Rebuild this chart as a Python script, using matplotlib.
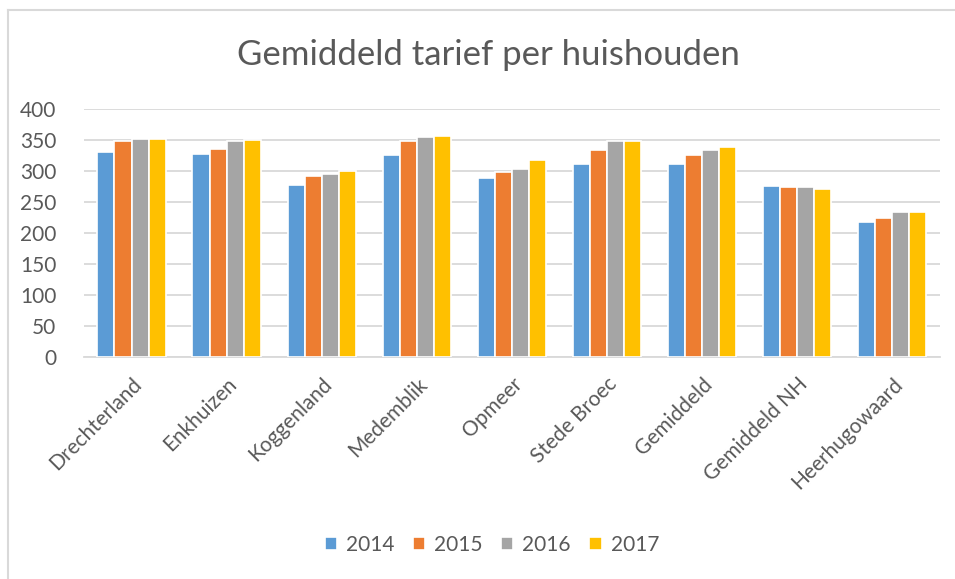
import matplotlib.pyplot as plt
import numpy as np
from matplotlib.lines import Line2D

plt.rcParams['font.family'] = ['Lato', 'DejaVu Sans']

gemeenten = ['Drechterland', 'Enkhuizen', 'Koggenland', 'Medemblik', 'Opmeer',
             'Stede Broec', 'Gemiddeld', 'Gemiddeld NH', 'Heerhugowaard']
jaren = ['2014', '2015', '2016', '2017']
t2014 = [330, 328, 278, 325, 288, 311, 311, 276, 218]
t2015 = [348, 336, 292, 348, 299, 334, 325, 274, 224]
t2016 = [352, 348, 295, 354, 303, 348, 334, 274, 234]
t2017 = [352, 350, 300, 356, 317, 348, 338, 271, 234]
kleuren = ['#5B9BD5', '#ED7D31', '#A5A5A5', '#FFC000']

tekst = '#595959'
fig = plt.figure(figsize=(9.55, 5.79), dpi=100)
ax = fig.add_axes([0.088, 0.383, 0.896, 0.429])

x = np.arange(len(gemeenten))
w = 0.18
for i, (reeks, kleur) in enumerate(zip([t2014, t2015, t2016, t2017], kleuren)):
    ax.bar(x + (i - 1.5) * w, reeks, width=w, color=kleur, edgecolor='white',
           linewidth=1.2, label=jaren[i], zorder=3)

ax.set_xlim(-0.5, len(gemeenten) - 0.5)
ax.set_ylim(0, 400)
ax.set_yticks(range(0, 401, 50))
ax.yaxis.grid(True, color='#D9D9D9', linewidth=1.3, zorder=0)
for s in ['top', 'right', 'left']:
    ax.spines[s].set_visible(False)
ax.spines['bottom'].set_color('#D9D9D9')
ax.spines['bottom'].set_linewidth(1.3)
ax.tick_params(axis='both', length=0, labelsize=15, labelcolor=tekst)
ax.tick_params(axis='y', pad=20)
ax.set_xticks(x)
ax.set_xticklabels(gemeenten, rotation=45, ha='right', rotation_mode='anchor')
ax.tick_params(axis='x', pad=12)

fig.text(0.511, 0.905, 'Gemiddeld tarief per huishouden', ha='center', va='center',
         fontsize=25, color=tekst)

ax.legend(loc='center', ncol=4, frameon=False, fontsize=15, labelcolor=tekst,
          handlelength=0.58, handleheight=0.58, handletextpad=0.43, columnspacing=0.9)
leg = ax.get_legend()
leg.set_bbox_to_anchor((0.515, 1 - 545 / 579), transform=fig.transFigure)

# kader rond de grafiek (boven en links)
fig.add_artist(Line2D([8 / 955, 1], [1 - 10 / 579, 1 - 10 / 579], color='#D9D9D9',
                      linewidth=1.5, transform=fig.transFigure))
fig.add_artist(Line2D([8 / 955, 8 / 955], [0, 1 - 10 / 579], color='#D9D9D9',
                      linewidth=1.5, transform=fig.transFigure))

fig.savefig('out.png', dpi=100, facecolor='white')
